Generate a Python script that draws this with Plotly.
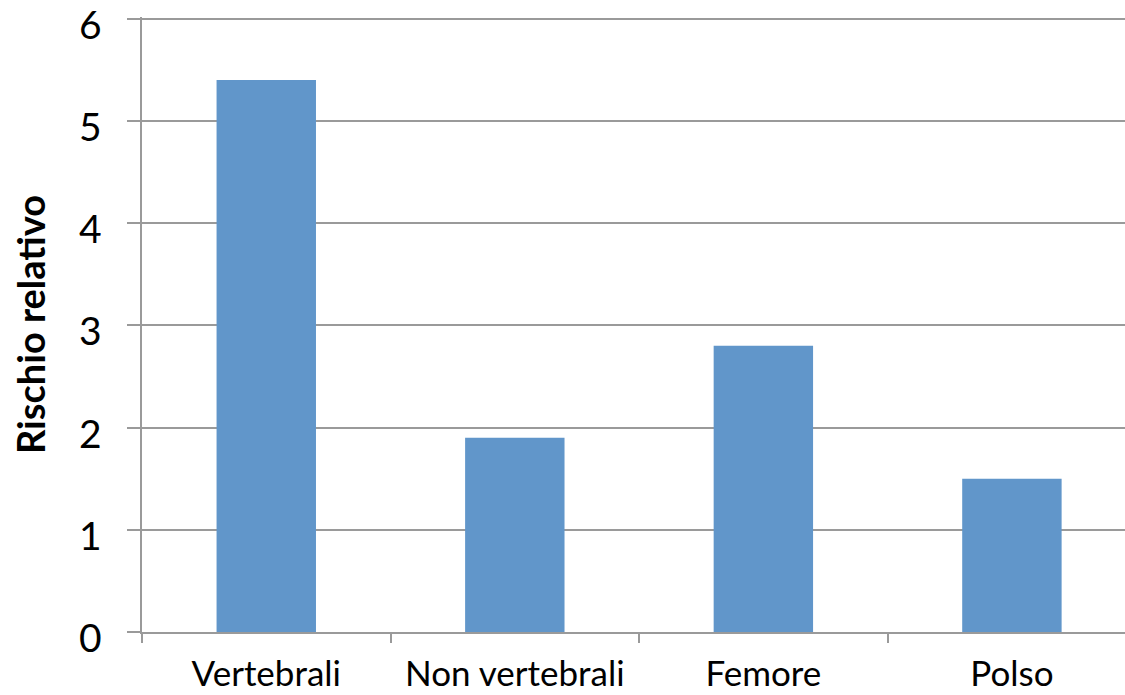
import plotly.graph_objects as go

categories = ["Vertebrali", "Non vertebrali", "Femore", "Polso"]
rischio = [5.4, 1.9, 2.8, 1.5]
y_ticks = [0, 1, 2, 3, 4, 5, 6]

grey = "#9a9a9a"
font_family = "Lato, 'Open Sans', sans-serif"

fig = go.Figure(
    go.Bar(
        x=categories,
        y=rischio,
        marker=dict(color="#6196CA", line=dict(width=0)),
    )
)

fig.update_layout(
    width=1125,
    height=695,
    margin=dict(l=142, r=0, t=17, b=63, autoexpand=False),
    paper_bgcolor="white",
    plot_bgcolor="white",
    bargap=0.6,
    showlegend=False,
    font=dict(family=font_family, color="black"),
)

fig.update_xaxes(
    type="category",
    range=[-0.5, 3.455],
    automargin=False,
    showline=True,
    linecolor=grey,
    linewidth=2,
    ticks="outside",
    tickson="boundaries",
    ticklen=9,
    tickwidth=2,
    tickcolor=grey,
    showgrid=False,
    tickfont=dict(size=35, family=font_family, color="black"),
    ticklabelstandoff=10,
    ticklabeloverflow="allow",
)

fig.update_yaxes(
    range=[0, 6.015],
    tickvals=y_ticks,
    automargin=False,
    showline=True,
    linecolor=grey,
    linewidth=2,
    ticks="outside",
    ticklen=13,
    tickwidth=2,
    tickcolor=grey,
    showgrid=True,
    gridcolor=grey,
    gridwidth=2,
    zeroline=False,
    showticklabels=False,
    title=dict(
        text="<b>Rischio relativo</b>",
        font=dict(size=38, family=font_family, color="black"),
        standoff=70,
    ),
)

# y tick labels, set slightly below their gridlines
for v in y_ticks:
    fig.add_annotation(
        x=0, xref="paper", xanchor="right", xshift=-38,
        y=v, yref="y", yanchor="middle", yshift=-5,
        text=str(v), showarrow=False,
        font=dict(size=39, family=font_family, color="black"),
    )

fig.write_html("out.html")
